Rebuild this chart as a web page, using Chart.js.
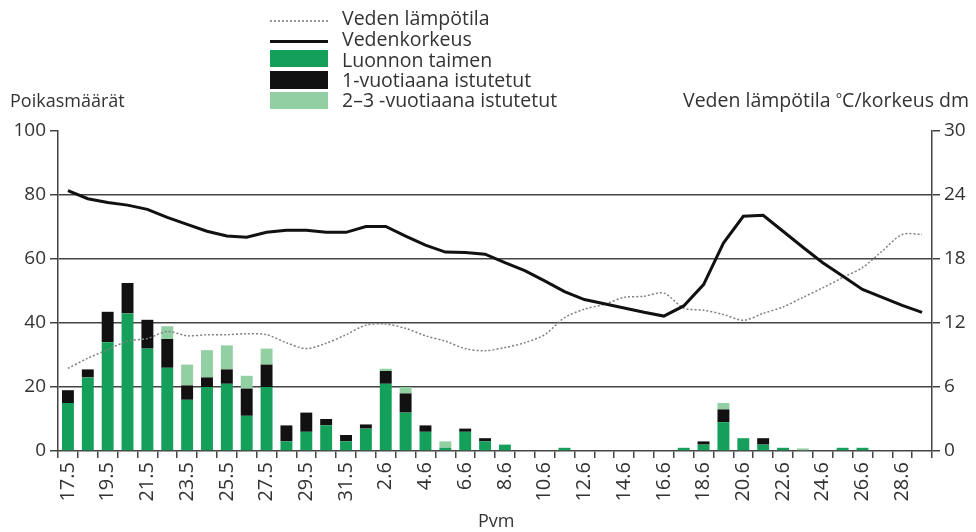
<!DOCTYPE html>
<html>
<head>
<meta charset="utf-8">
<script src="https://cdn.jsdelivr.net/npm/chart.js@4.4.1/dist/chart.umd.min.js"></script>
<style>
  body { margin: 0; background: #fff; font-family: "Open Sans", sans-serif; color: #333; }
  #wrap { position: relative; width: 976px; height: 532px; }
  .txt { position: absolute; font-size: 19.5px; line-height: 20px; white-space: nowrap; }
  .sw { position: absolute; left: 270px; width: 58px; }
</style>
</head>
<body>
<div id="wrap">
  <canvas id="chart"></canvas>

  <!-- selite -->
  <div class="sw" style="top:20px;height:0;border-top:2px dotted #999;"></div>
  <div class="sw" style="top:40px;height:3px;background:#111;"></div>
  <div class="sw" style="top:50px;height:17px;background:#14a05a;"></div>
  <div class="sw" style="top:71px;height:18px;background:#111;"></div>
  <div class="sw" style="top:92px;height:17px;background:#92cfa2;"></div>
  <div class="txt" style="left:342px;top:8px;">Veden lämpötila</div>
  <div class="txt" style="left:342px;top:29px;">Vedenkorkeus</div>
  <div class="txt" style="left:342px;top:50px;">Luonnon taimen</div>
  <div class="txt" style="left:342px;top:70px;">1-vuotiaana istutetut</div>
  <div class="txt" style="left:342px;top:90px;">2–3 -vuotiaana istutetut</div>

  <!-- akselien otsikot -->
  <div class="txt" style="left:10px;top:90px;font-size:18px;">Poikasmäärät</div>
  <div class="txt" style="left:683px;top:90px;">Veden lämpötila <span style="font-size:15px;position:relative;top:-3px;">°</span>C/korkeus dm</div>
  <div class="txt" style="left:478px;top:510px;font-size:18px;">Pvm</div>
</div>

<script>
// päivät 17.5.–29.6.
const paivat = [
  "17.5", "18.5", "19.5", "20.5", "21.5", "22.5", "23.5", "24.5", "25.5", "26.5",
  "27.5", "28.5", "29.5", "30.5", "31.5", "1.6", "2.6", "3.6", "4.6", "5.6",
  "6.6", "7.6", "8.6", "9.6", "10.6", "11.6", "12.6", "13.6", "14.6", "15.6",
  "16.6", "17.6", "18.6", "19.6", "20.6", "21.6", "22.6", "23.6", "24.6", "25.6",
  "26.6", "27.6", "28.6", "29.6"
];

// poikasmäärät
const luonnonTaimen = [
  15, 23, 34, 43, 32, 26, 16, 20, 21, 11,
  20, 3, 6, 8, 3, 7, 21, 12, 6, 1,
  6, 3, 2, 0, 0, 1, 0, 0, 0, 0,
  0, 1, 2, 9, 4, 2, 1, 0, 0, 1,
  1, 0, 0, 0
];
const istutetut1v = [
  4, 2.5, 9.5, 9.5, 9, 9, 4.5, 3, 4.5, 8.5,
  7, 5, 6, 2, 2, 1.3, 4, 6, 2, 0,
  1, 1, 0, 0, 0, 0, 0, 0, 0, 0,
  0, 0, 1, 4, 0, 2, 0, 0, 0, 0,
  0, 0, 0, 0
];
const istutetut23v = [
  0, 0, 0, 0, 0, 4, 6.5, 8.5, 7.5, 4,
  5, 0, 0, 0, 0, 0, 0.7, 2, 0, 2,
  0, 0, 0, 0, 0, 0, 0, 0, 0, 0,
  0, 0, 0, 2, 0, 0, 0, 0.8, 0, 0,
  0, 0, 0, 0
];

// oikea akseli: °C / dm
const vedenLampotila = [
  7.75, 8.7, 9.5, 10.3, 10.55, 11.2, 10.8, 10.9, 10.9, 11.0,
  10.9, 10.15, 9.6, 10.1, 10.9, 11.8, 11.9, 11.5, 10.8, 10.3,
  9.6, 9.4, 9.7, 10.15, 10.9, 12.5, 13.3, 13.75, 14.4, 14.5,
  14.8, 13.4, 13.2, 12.8, 12.25, 12.9, 13.5, 14.4, 15.3, 16.25,
  17.2, 18.75, 20.3, 20.3
];
const vedenkorkeus = [
  24.4, 23.65, 23.3, 23.05, 22.65, 21.9, 21.25, 20.6, 20.15, 20.05,
  20.5, 20.7, 20.7, 20.5, 20.5, 21.05, 21.05, 20.15, 19.3, 18.65,
  18.6, 18.45, 17.65, 16.9, 15.95, 14.95, 14.2, 13.8, 13.4, 13.0,
  12.65, 13.6, 15.6, 19.5, 22.0, 22.1, 20.6, 19.1, 17.65, 16.4,
  15.15, 14.4, 13.65, 13.0
];

const vasenTikit = [0, 20, 40, 60, 80, 100];
const oikeaTikit = [0, 6, 12, 18, 24, 30];

const akseliVari = "#444";
const tekstiVari = "#333";
const fontti = { family: "Open Sans", size: 19 };

const barCommon = { stack: "p", yAxisID: "y", barPercentage: 0.6, categoryPercentage: 1, order: 2 };

new Chart(document.getElementById("chart"), {
  type: "bar",
  data: {
    labels: paivat,
    datasets: [
      { ...barCommon, label: "Luonnon taimen", data: luonnonTaimen, backgroundColor: "#14a05a" },
      { ...barCommon, label: "1-vuotiaana istutetut", data: istutetut1v, backgroundColor: "#111" },
      { ...barCommon, label: "2–3 -vuotiaana istutetut", data: istutetut23v, backgroundColor: "#92cfa2" },
      {
        type: "line", label: "Veden lämpötila", data: vedenLampotila, yAxisID: "y1",
        borderColor: "#808080", borderWidth: 1.5, borderDash: [2, 2], pointRadius: 0,
        tension: 0.3, order: 1
      },
      {
        type: "line", label: "Vedenkorkeus", data: vedenkorkeus, yAxisID: "y1",
        borderColor: "#111", borderWidth: 3, pointRadius: 0, tension: 0, order: 0
      }
    ]
  },
  options: {
    responsive: true,
    maintainAspectRatio: false,
    animation: false,
    layout: { padding: { top: 131, left: 0, right: 0, bottom: 0 } },
    plugins: { legend: { display: false }, tooltip: { enabled: false } },
    scales: {
      x: {
        stacked: true,
        offset: true,
        afterFit: (s) => { s.height = 81; },
        border: { display: true, color: akseliVari, width: 1.5 },
        grid: { offset: true, drawOnChartArea: false, tickLength: 7, tickColor: akseliVari, lineWidth: 1.5 },
        ticks: {
          autoSkip: false, minRotation: 90, maxRotation: 90, padding: 4,
          color: tekstiVari, font: { family: "Open Sans", size: 20 },
          callback: (v, i) => (i % 2 === 0 ? paivat[i] : "")
        }
      },
      y: {
        stacked: true,
        position: "left",
        min: 0, max: 100,
        afterFit: (s) => { s.width = 58; },
        afterBuildTicks: (s) => { s.ticks = vasenTikit.map((v) => ({ value: v })); },
        border: { display: true, color: akseliVari, width: 1.5 },
        grid: {
          color: (c) => (c.tick && c.tick.value > 0 && c.tick.value < 100 ? akseliVari : "rgba(0,0,0,0)"),
          tickColor: akseliVari, tickLength: 8, lineWidth: 1.5
        },
        ticks: { color: tekstiVari, font: fontti, padding: 4 }
      },
      y1: {
        position: "right",
        min: 0, max: 30,
        afterFit: (s) => { s.width = 44; },
        afterBuildTicks: (s) => { s.ticks = oikeaTikit.map((v) => ({ value: v })); },
        border: { display: true, color: akseliVari, width: 1.5 },
        grid: { drawOnChartArea: false, tickColor: akseliVari, tickLength: 8, lineWidth: 1.5 },
        ticks: { color: tekstiVari, font: fontti, padding: 4 }
      }
    }
  }
});
</script>
</body>
</html>
